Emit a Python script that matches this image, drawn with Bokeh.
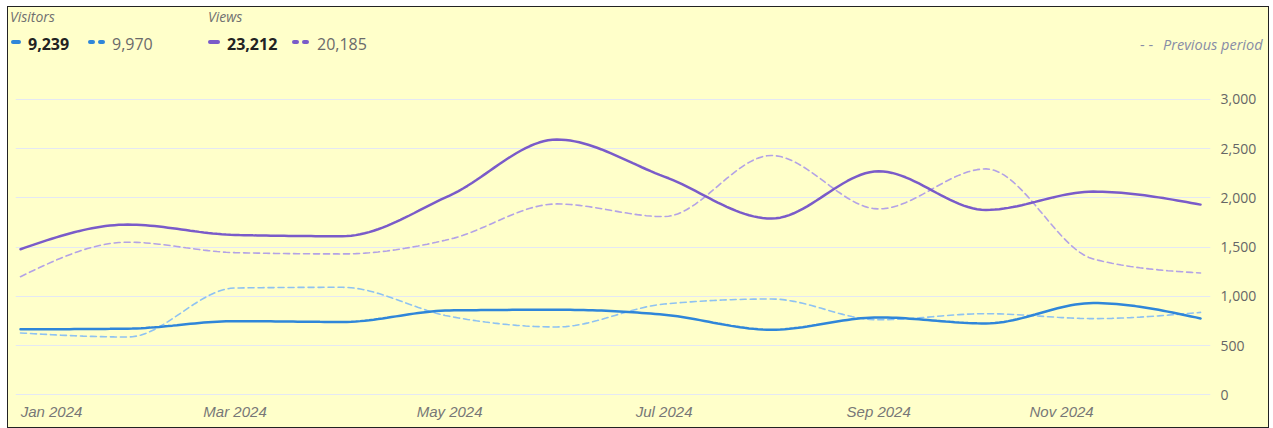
import numpy as np
from bokeh.plotting import figure
from bokeh.layouts import column
from bokeh.models import FixedTicker, Range1d, LinearAxis, NumeralTickFormatter, Div
from bokeh.embed import file_html
from bokeh.resources import INLINE

# ---------------- data ----------------
months = ["Jan 2024", "Feb 2024", "Mar 2024", "Apr 2024", "May 2024", "Jun 2024",
          "Jul 2024", "Aug 2024", "Sep 2024", "Oct 2024", "Nov 2024", "Dec 2024"]
visitors = [665, 672, 748, 740, 857, 864, 813, 661, 786, 725, 932, 776]
visitors_prev = [628, 587, 1085, 1092, 797, 689, 922, 973, 762, 824, 774, 837]
views = [1479, 1729, 1624, 1611, 2024, 2593, 2217, 1790, 2271, 1878, 2064, 1932]
views_prev = [1200, 1550, 1444, 1431, 1580, 1939, 1810, 2431, 1888, 2295, 1380, 1237]
y_ticks = [0, 500, 1000, 1500, 2000, 2500, 3000]
x_tick_months = ["Jan 2024", "Mar 2024", "May 2024", "Jul 2024", "Sep 2024", "Nov 2024"]
series_groups = ["Visitors", "Views"]
prev_label = "Previous period"

BG = "#FFFFCA"
BLUE = "#2F86D9"
BLUE_LIGHT = "#8EC2F2"
PURPLE = "#7A5BC9"
PURPLE_LIGHT = "#B3A2E6"
FONT = "Open Sans"

W = 1260          # inner width
HEAD_H = 75
MAIN_H = 345


def monotone(xs, ys, n=24):
    """d3 curveMonotoneX style interpolation between the given points."""
    xs = np.asarray(xs, float)
    ys = np.asarray(ys, float)
    h = np.diff(xs)
    s = np.diff(ys) / h
    m = np.zeros_like(ys)
    for i in range(1, len(xs) - 1):
        s0, s1 = s[i - 1], s[i]
        p_ = (s0 * h[i] + s1 * h[i - 1]) / (h[i - 1] + h[i])
        m[i] = (np.sign(s0) + np.sign(s1)) * min(abs(s0), abs(s1), 0.5 * abs(p_))
    m[0] = (3 * s[0] - m[1]) / 2
    m[-1] = (3 * s[-1] - m[-2]) / 2
    ox, oy = [], []
    for i in range(len(xs) - 1):
        t = np.linspace(0, 1, n, endpoint=(i == len(xs) - 2))
        h00 = 2 * t**3 - 3 * t**2 + 1
        h10 = t**3 - 2 * t**2 + t
        h01 = -2 * t**3 + 3 * t**2
        h11 = t**3 - t**2
        ox.extend(xs[i] + t * h[i])
        oy.extend(h00 * ys[i] + h10 * h[i] * m[i] + h01 * ys[i + 1] + h11 * h[i] * m[i + 1])
    return ox, oy


# ---------------- header (legend) as HTML ----------------
def txt(s, left, cy, size, color, style="normal", weight="normal"):
    return (f'<span style="position:absolute;left:{left}px;top:{cy - 10}px;line-height:20px;'
            f'white-space:nowrap;font-size:{size}px;font-style:{style};font-weight:{weight};'
            f'color:{color};">{s}</span>')


def mark(left, width, cy, color):
    return (f'<span style="position:absolute;left:{left}px;top:{cy - 2}px;width:{width}px;'
            f'height:4px;border-radius:2px;background:{color};"></span>')


parts = [
    txt(series_groups[0], 2, 10, 14, "#707070", style="italic"),
    txt(series_groups[1], 200, 10, 14, "#707070", style="italic"),
    mark(3, 10, 35, BLUE),
    txt(f"{sum(visitors):,}", 20, 37, 16, "#222222", weight="bold"),
    mark(80, 7, 35, BLUE), mark(90, 7, 35, BLUE),
    txt(f"{sum(visitors_prev):,}", 104, 37, 16, "#6a6a6a"),
    mark(200, 12, 35, PURPLE),
    txt(f"{sum(views):,}", 219, 37, 16, "#222222", weight="bold"),
    mark(284, 7, 35, PURPLE), mark(294, 7, 35, PURPLE),
    txt(f"{sum(views_prev):,}", 309, 37, 16, "#6a6a6a"),
    txt("- -", 1132, 38, 14.5, "#878CA6"),
    txt(prev_label, 1155, 38, 14.5, "#878CA6", style="italic"),
]
html = (f'<div style="position:relative;width:{W}px;height:{HEAD_H}px;background:{BG};'
        f'font-family:\'{FONT}\',sans-serif;margin:0;padding:0;">' + "".join(parts) + "</div>")
head = Div(text=html, width=W, height=HEAD_H, margin=0,
           styles={"background-color": BG, "margin": "0", "padding": "0"})

# ---------------- main chart ----------------
idx = list(range(len(months)))
p = figure(width=W, height=MAIN_H, output_backend="svg", toolbar_location=None,
           x_range=Range1d(-0.0466, 11.093), y_range=Range1d(-58, 3142),
           min_border_left=7, min_border_right=58, min_border_top=3, min_border_bottom=27,
           background_fill_color=BG, border_fill_color=BG, outline_line_color=None,
           y_axis_location=None, margin=0)

p.xgrid.visible = False
p.ygrid.ticker = FixedTicker(ticks=y_ticks)
p.ygrid.grid_line_color = "#E4E8F4"
p.ygrid.grid_line_width = 1

yax = LinearAxis(ticker=FixedTicker(ticks=y_ticks), formatter=NumeralTickFormatter(format="0,0"))
yax.axis_line_color = None
yax.major_tick_line_color = None
yax.minor_tick_line_color = None
yax.major_tick_out = 0
yax.major_tick_in = 0
yax.minor_tick_out = 0
yax.major_label_standoff = 10
yax.major_label_text_font = FONT
yax.major_label_text_font_size = "14px"
yax.major_label_text_color = "#666666"
p.add_layout(yax, "right")

# x axis: end labels aligned inward like the reference
tick_pos = []
for m in x_tick_months:
    i = months.index(m)
    if i == 0:
        tick_pos.append(i + 0.289)
    elif m == x_tick_months[-1]:
        tick_pos.append(i - 0.295)
    else:
        tick_pos.append(float(i))
xax = p.xaxis[0]
xax.ticker = FixedTicker(ticks=tick_pos)
xax.major_label_overrides = {t: m for t, m in zip(tick_pos, x_tick_months)}
xax.axis_line_color = None
xax.major_tick_line_color = None
xax.minor_tick_line_color = None
xax.major_tick_out = 0
xax.major_tick_in = 0
xax.minor_tick_out = 0
xax.major_label_standoff = 2
xax.major_label_text_font = "Liberation Sans"
xax.major_label_text_font_style = "italic"
xax.major_label_text_font_size = "15px"
xax.major_label_text_color = "#777777"

for ys, col, w, dash in [(visitors_prev, BLUE_LIGHT, 1.6, "6 4"),
                         (views_prev, PURPLE_LIGHT, 1.6, "6 4"),
                         (visitors, BLUE, 2.5, "solid"),
                         (views, PURPLE, 2.5, "solid")]:
    cx, cy = monotone(idx, ys)
    p.line(cx, cy, line_color=col, line_width=w, line_dash=dash, line_cap="round")

layout = column(head, p, spacing=0)
layout.styles = {"margin-left": "7px", "margin-top": "6px", "border": "1px solid #222",
                 "background-color": BG}

open("out.html", "w").write(file_html(layout, INLINE))
